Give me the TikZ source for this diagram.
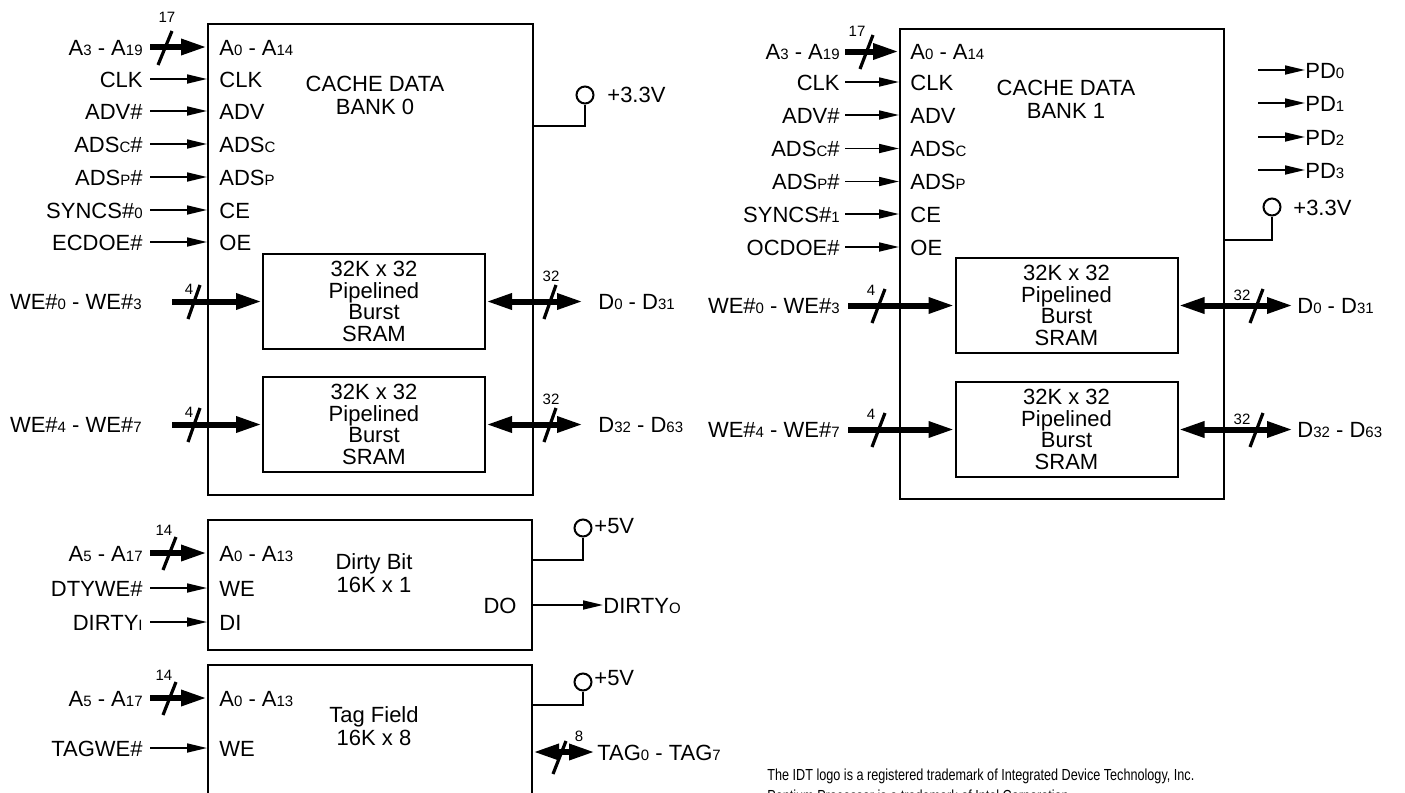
\documentclass[tikz,border=0pt]{standalone}
\usepackage{fontspec}
\setmainfont{Liberation Sans}
\usetikzlibrary{arrows.meta,fit}
\newcommand\ssub[1]{{\fontsize{7.5}{8}\selectfont #1}}
\newcommand\mainsz{\fontsize{11}{11.5}\selectfont}
\newcommand\smallsz{\fontsize{7.5}{8}\selectfont}
\tikzset{
  lbl/.style={inner sep=0pt, text height=8pt, text depth=0pt, font=\mainsz},
  num/.style={inner sep=0pt, font=\smallsz},
  blk/.style={draw, line width=1pt, inner sep=0pt},
  ram/.style={draw, line width=1pt, inner sep=0pt, minimum width=111pt, minimum height=47.5pt, align=center, font=\fontsize{11}{10.9}\selectfont},
  ttl/.style={inner sep=0pt, align=center, font=\fontsize{11}{11.5}\selectfont},
  sig/.style={line width=0.85pt, -{Triangle[length=10pt,width=4.5pt]}},
  bus/.style={line width=3pt, -{Triangle[length=13pt,width=7.5pt]}},
  bidir/.style={line width=3pt, {Triangle[length=13pt,width=7.5pt]}-{Triangle[length=13pt,width=7.5pt]}},
  slash/.style={line width=1.6pt},
  wire/.style={line width=1pt},
  vcc/.style={circle, draw, line width=1pt, inner sep=0pt, minimum size=8.5pt},
  foot/.style={anchor=base west, inner sep=0pt, font=\fontsize{8}{9}\selectfont},
}
\begin{document}
\begin{tikzpicture}[x=0.5pt,y=-0.5pt]
\useasboundingbox (0,0) rectangle (1405,793);

% ================= BANK 0 =================
\node[blk, fit={(208,24)(533,495)}] (B0) {};
\node[ttl] (T0) at (375,95) {CACHE DATA\\BANK 0};
\node[lbl, anchor=east] (L0x) at (143,47) {A\ssub{3} - A\ssub{19}};
\node[lbl, anchor=west] (P0x) at (219,47) {A\ssub{0} - A\ssub{14}};
\draw[bus] ([xshift=3.5pt]L0x.east) -- (L0x.east -| B0.west);
\draw[slash] (158,65) -- (172,31);
\node[num] (N0x) at (167,17) {17};
\foreach \n/\y/\l/\p in {a/79/CLK/CLK, b/111/ADV\#/ADV, c/144/ADS\ssub{C}\#/ADS\ssub{C}, d/177/ADS\ssub{P}\#/ADS\ssub{P}, e/210/SYNCS\#\ssub{0}/CE, f/242/ECDOE\#/OE}{
  \node[lbl, anchor=east] (L0\n) at (143,\y) {\l};
  \node[lbl, anchor=west] (P0\n) at (219,\y) {\p};
  \draw[sig] ([xshift=3.5pt]L0\n.east) -- (L0\n.east -| B0.west);
}
\node[ram] (S0a) at (374,301.5) {32K x 32\\Pipelined\\Burst\\SRAM};
\node[ram] (S0b) at (374,424.5) {32K x 32\\Pipelined\\Burst\\SRAM};
\node[lbl, anchor=east] (W0a) at (142,301.5) {WE\#\ssub{0} - WE\#\ssub{3}};
\node[lbl, anchor=east] (W0b) at (142,424.5) {WE\#\ssub{4} - WE\#\ssub{7}};
\draw[bus] ([xshift=15pt]W0a.east) -- (W0a.east -| S0a.west);
\draw[bus] ([xshift=15pt]W0b.east) -- (W0b.east -| S0b.west);
\draw[slash] (188,319) -- (200,285);
\draw[slash] (188,442) -- (200,408);
\node[num] (N0a) at (189,289) {4};
\node[num] (N0b) at (189,412) {4};
\node[lbl, anchor=west] (D0a) at (598,301.5) {D\ssub{0} - D\ssub{31}};
\node[lbl, anchor=west] (D0b) at (598,424.5) {D\ssub{32} - D\ssub{63}};
\draw[bidir] (S0a.east) -- ([xshift=-7.5pt]D0a.west);
\draw[bidir] (S0b.east) -- ([xshift=-7.5pt]D0b.west);
\draw[slash] (544,319) -- (556,285);
\draw[slash] (544,442) -- (556,408);
\node[num] (M0a) at (551,276) {32};
\node[num] (M0b) at (551,399) {32};
\node[vcc] (V0) at (585,95) {};
\node[lbl, anchor=west] (V0l) at (607,94) {+3.3V};
\coordinate (K0) at (585,126);
\draw[wire] (V0.south) -- (K0) -- (K0 -| B0.east);

% ================= BANK 1 =================
\node[blk, fit={(900,29)(1224,499)}] (B1) {};
\node[ttl] (T1) at (1066,99) {CACHE DATA\\BANK 1};
\node[lbl, anchor=east] (L1x) at (840,51.5) {A\ssub{3} - A\ssub{19}};
\node[lbl, anchor=west] (P1x) at (910,51.5) {A\ssub{0} - A\ssub{14}};
\draw[bus] ([xshift=2.5pt]L1x.east) -- (L1x.east -| B1.west);
\draw[slash] (860,69) -- (873,35);
\node[num] (N1x) at (857,31) {17};
\foreach \n/\y/\l/\p in {a/82/CLK/CLK, b/115/ADV\#/ADV, c/148.5/ADS\ssub{C}\#/ADS\ssub{C}, d/181.5/ADS\ssub{P}\#/ADS\ssub{P}, e/214/SYNCS\#\ssub{1}/CE, f/247/OCDOE\#/OE}{
  \node[lbl, anchor=east] (L1\n) at (840,\y) {\l};
  \node[lbl, anchor=west] (P1\n) at (910,\y) {\p};
  \draw[sig] ([xshift=2.5pt]L1\n.east) -- (L1\n.east -| B1.west);
}
\node[ram] (S1a) at (1066.5,305.5) {32K x 32\\Pipelined\\Burst\\SRAM};
\node[ram] (S1b) at (1066.5,429.5) {32K x 32\\Pipelined\\Burst\\SRAM};
\node[lbl, anchor=east] (W1a) at (840,305.5) {WE\#\ssub{0} - WE\#\ssub{3}};
\node[lbl, anchor=east] (W1b) at (840,429.5) {WE\#\ssub{4} - WE\#\ssub{7}};
\draw[bus] ([xshift=4pt]W1a.east) -- (W1a.east -| S1a.west);
\draw[bus] ([xshift=4pt]W1b.east) -- (W1b.east -| S1b.west);
\draw[slash] (872,323) -- (885,289);
\draw[slash] (872,447) -- (885,413);
\node[num] (N1a) at (871,290) {4};
\node[num] (N1b) at (871,414) {4};
\node[lbl, anchor=west] (D1a) at (1297,305.5) {D\ssub{0} - D\ssub{31}};
\node[lbl, anchor=west] (D1b) at (1297,429.5) {D\ssub{32} - D\ssub{63}};
\draw[bidir] (S1a.east) -- ([xshift=-2pt]D1a.west);
\draw[bidir] (S1b.east) -- ([xshift=-2pt]D1b.west);
\draw[slash] (1250,323) -- (1263,289);
\draw[slash] (1250,447) -- (1263,413);
\node[num] (M1a) at (1242,295) {32};
\node[num] (M1b) at (1242,419) {32};
\foreach \n/\y in {0/70,1/103,2/137,3/170}{
  \node[lbl, anchor=west] (PD\n) at (1305,\y) {PD\ssub{\n}};
  \coordinate (PS\n) at (1258,\y);
  \draw[sig] (PS\n) -- (PD\n.west);
}
\node[vcc] (V1) at (1272,207) {};
\node[lbl, anchor=west] (V1l) at (1293,207) {+3.3V};
\coordinate (K1) at (1272,240);
\draw[wire] (V1.south) -- (K1) -- (K1 -| B1.east);

% ================= DIRTY BIT =================
\node[blk, fit={(208,520)(532,650)}] (DB) {};
\node[ttl] (TD) at (374,573) {Dirty Bit\\16K x 1};
\node[lbl, anchor=east] (LDx) at (143,553) {A\ssub{5} - A\ssub{17}};
\node[lbl, anchor=west] (PDx) at (219,553) {A\ssub{0} - A\ssub{13}};
\draw[bus] ([xshift=3.5pt]LDx.east) -- (LDx.east -| DB.west);
\draw[slash] (163,570) -- (176,537);
\node[num] (NDx) at (164,530) {14};
\node[lbl, anchor=east] (LDa) at (143,588) {DTYWE\#};
\node[lbl, anchor=west] (PDa) at (219,588) {WE};
\draw[sig] ([xshift=3.5pt]LDa.east) -- (LDa.east -| DB.west);
\node[lbl, anchor=east] (LDb) at (143,622) {DIRTY\ssub{I}};
\node[lbl, anchor=west] (PDb) at (219,622) {DI};
\draw[sig] ([xshift=3.5pt]LDb.east) -- (LDb.east -| DB.west);
\node[lbl, anchor=east] (DOp) at (517,605) {DO};
\node[lbl, anchor=west] (DOo) at (603,605) {DIRTY\ssub{O}};
\draw[sig] (DOp.east -| DB.east) -- (DOo.west);
\node[vcc] (V2) at (583,528) {};
\node[lbl, anchor=west] (V2l) at (594,525) {+5V};
\coordinate (K2) at (583,560);
\draw[wire] (V2.south) -- (K2) -- (K2 -| DB.east);

% ================= TAG FIELD =================
\node[blk, fit={(208,665)(532,840)}] (TF) {};
\node[ttl] (TT) at (374,726) {Tag Field\\16K x 8};
\node[lbl, anchor=east] (LTx) at (143,698) {A\ssub{5} - A\ssub{17}};
\node[lbl, anchor=west] (PTx) at (219,698) {A\ssub{0} - A\ssub{13}};
\draw[bus] ([xshift=3.5pt]LTx.east) -- (LTx.east -| TF.west);
\draw[slash] (163,715) -- (176,682);
\node[num] (NTx) at (164,675) {14};
\node[lbl, anchor=east] (LTa) at (143,748) {TAGWE\#};
\node[lbl, anchor=west] (PTa) at (219,748) {WE};
\draw[sig] ([xshift=3.5pt]LTa.east) -- (LTa.east -| TF.west);
\node[vcc] (V3) at (583,682) {};
\node[lbl, anchor=west] (V3l) at (594,677) {+5V};
\coordinate (K3) at (583,705);
\draw[wire] (V3.south) -- (K3) -- (K3 -| TF.east);
\node[lbl, anchor=west] (TG) at (597,752) {TAG\ssub{0} - TAG\ssub{7}};
\draw[bidir] (TG.west -| TF.east) -- ([xshift=-1pt]TG.west);
\draw[slash] (553,774) -- (566,741);
\node[num] (NTg) at (579,736) {8};

% ================= FOOTNOTE =================
\node[foot] (F1) at (767,780) {\scalebox{0.79}[1]{The IDT logo is a registered trademark of Integrated Device Technology, Inc.}};
\node[foot] (F2) at (767,801) {\scalebox{0.79}[1]{Pentium Processor is a trademark of Intel Corporation.}};
\end{tikzpicture}
\end{document}
